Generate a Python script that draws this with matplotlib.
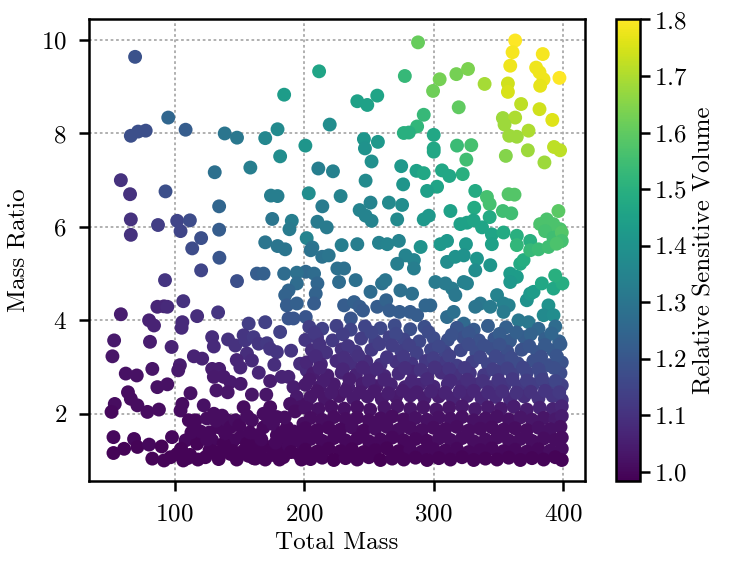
import matplotlib.pyplot as plt
import numpy as np

plt.rcParams['font.family'] = 'serif'
plt.rcParams['font.serif'] = ['cmr10']
plt.rcParams['mathtext.fontset'] = 'cm'
plt.rcParams['axes.formatter.use_mathtext'] = True

# sparse points, upper left (mass ratio > 5.5)
ul_mass = [69.5, 184.6, 95.1, 66.2, 71.8, 77.7, 108.5, 138.7, 148.2, 170.0,
           179.5, 181.5, 201.0, 58.5, 65.6, 66.2, 66.2, 93.0, 87.2, 102.0,
           104.6, 111.8, 120.5, 113.6, 131.0, 134.4, 134.4, 158.5, 174.4, 179.5,
           175.4, 190.5, 188.7, 170.0, 179.5, 185.4, 203.6, 202.0]
ul_ratio = [9.64, 8.83, 8.34, 7.95, 8.04, 8.06, 8.08, 8.00, 7.91, 7.90,
            8.09, 7.51, 7.74, 7.00, 6.70, 6.16, 5.83, 6.76, 6.04, 6.13,
            5.91, 6.14, 5.76, 5.54, 7.17, 6.44, 5.94, 7.27, 6.67, 6.66,
            6.17, 6.13, 5.95, 5.67, 5.59, 5.52, 6.72, 5.76]
ul_vol = [1.19, 1.43, 1.25, 1.18, 1.18, 1.18, 1.22, 1.30, 1.31, 1.36,
          1.37, 1.38, 1.41, 1.10, 1.10, 1.10, 1.10, 1.18, 1.13, 1.15,
          1.15, 1.17, 1.18, 1.17, 1.28, 1.25, 1.22, 1.33, 1.33, 1.33,
          1.30, 1.33, 1.32, 1.30, 1.30, 1.30, 1.38, 1.35]

# sparse points, upper right
ur_mass = [288.0, 211.6, 277.8, 304.7, 299.6, 317.6, 326.6, 339.4, 363.0, 361.0,
           359.2, 357.4, 357.4, 384.3, 379.2, 381.8, 384.9, 382.3, 397.2, 367.6,
           381.8, 391.7, 353.5, 363.0, 354.8, 358.4, 364.3, 373.3, 372.8, 355.8,
           385.6, 393.0, 397.7, 319.4, 292.4, 287.3, 277.0, 280.9, 300.1, 300.1,
           300.1, 318.1, 329.1, 325.3, 322.5, 312.2, 306.5, 302.7, 295.0, 332.2,
           341.2, 343.3, 357.9, 362.5, 353.5, 360.0, 331.4, 343.3, 313.0, 296.3,
           292.4, 396.4, 387.4, 382.3, 392.5, 397.7, 386.1, 286.8, 292.4, 275.0,
           276.5, 252.1, 247.5, 246.2, 247.0, 257.0, 248.8, 241.1, 256.5, 219.8,
           211.0, 222.3, 228.2, 214.1, 242.9, 247.5, 252.1, 251.3, 265.5, 275.7,
           271.9, 210.3, 217.5, 206.4, 229.0, 241.1, 257.8, 264.2, 273.2, 290.0,
           305.3, 310.4, 320.7, 325.8, 330.9, 337.4, 345.0, 354.0, 364.3, 374.6,
           325.0, 345.0, 392.5, 399.0, 399.0]
ur_ratio = [9.95, 9.33, 9.23, 9.16, 8.91, 9.27, 9.38, 9.06, 9.99, 9.74,
            9.45, 9.07, 8.89, 9.70, 9.41, 9.31, 9.16, 9.02, 9.19, 8.63,
            8.52, 8.29, 8.33, 8.34, 8.19, 7.95, 7.93, 8.06, 7.64, 7.52,
            7.38, 7.71, 7.64, 8.56, 8.40, 8.15, 8.01, 8.02, 7.97, 7.68,
            7.61, 7.74, 7.75, 7.44, 7.13, 7.09, 7.21, 6.86, 6.77, 6.77,
            6.64, 6.49, 6.70, 6.69, 6.34, 6.29, 6.41, 6.21, 6.34, 6.24,
            6.16, 6.34, 6.16, 6.06, 6.06, 5.95, 5.91, 7.20, 7.15, 7.30,
            6.91, 7.40, 6.99, 7.88, 7.68, 7.82, 8.61, 8.69, 8.81, 8.19,
            7.25, 7.19, 6.66, 6.44, 6.36, 6.24, 6.13, 6.52, 6.52, 6.47,
            6.16, 6.11, 5.99, 5.56, 5.61, 5.63, 5.66, 5.63, 5.70, 5.57,
            5.63, 5.70, 6.06, 6.09, 6.14, 5.99, 5.84, 5.88, 5.81, 5.70,
            5.63, 5.63, 5.77, 5.88, 5.70]
ur_vol = [1.61, 1.46, 1.53, 1.63, 1.62, 1.63, 1.64, 1.69, 1.80, 1.79,
          1.78, 1.74, 1.75, 1.79, 1.78, 1.78, 1.78, 1.77, 1.80, 1.72,
          1.74, 1.76, 1.68, 1.70, 1.68, 1.68, 1.68, 1.70, 1.68, 1.65,
          1.68, 1.72, 1.72, 1.60, 1.53, 1.52, 1.50, 1.50, 1.47, 1.47,
          1.47, 1.54, 1.56, 1.55, 1.50, 1.47, 1.47, 1.46, 1.44, 1.48,
          1.56, 1.56, 1.58, 1.58, 1.55, 1.55, 1.48, 1.48, 1.45, 1.42,
          1.42, 1.59, 1.57, 1.57, 1.57, 1.57, 1.56, 1.45, 1.47, 1.42,
          1.41, 1.39, 1.37, 1.41, 1.40, 1.42, 1.45, 1.45, 1.46, 1.38,
          1.33, 1.34, 1.35, 1.32, 1.35, 1.35, 1.35, 1.35, 1.37, 1.38,
          1.37, 1.32, 1.32, 1.30, 1.33, 1.33, 1.34, 1.35, 1.35, 1.40,
          1.42, 1.42, 1.45, 1.45, 1.46, 1.46, 1.46, 1.48, 1.50, 1.50,
          1.42, 1.45, 1.55, 1.58, 1.56]

# middle band, mass 200-400, ratio 4-5.6
mid_mass = [205.1, 214.0, 219.0, 278.3, 284.8, 284.8, 271.9, 201.3, 207.7, 210.3,
            209.0, 207.7, 201.3, 225.7, 230.9, 227.0, 239.8, 251.3, 260.2, 262.8,
            274.4, 283.4, 230.9, 238.6, 242.9, 236.1, 245.5, 256.5, 263.4, 266.0,
            273.7, 281.9, 287.3, 293.7, 297.5, 310.4, 316.8, 323.3, 333.5, 343.8,
            332.2, 301.4, 309.1, 314.3, 316.8, 323.3, 325.8, 336.1, 332.2, 349.0,
            354.0, 358.0, 343.8, 310.4, 315.5, 323.3, 354.0, 365.6, 373.3, 359.2,
            364.3, 359.2, 366.9, 369.5, 372.0, 374.6, 377.2, 383.6, 392.6, 399.5,
            393.9, 388.7, 385.0, 392.6, 364.3, 374.6, 381.0, 388.7, 395.0]
mid_ratio = [5.50, 5.36, 5.39, 5.39, 5.29, 5.11, 5.21, 5.04, 5.00, 4.79,
             4.57, 4.36, 4.07, 5.11, 5.11, 4.82, 4.86, 4.61, 4.79, 4.86,
             4.64, 4.57, 4.32, 4.39, 4.29, 4.04, 4.21, 4.29, 4.43, 4.21,
             4.18, 4.18, 4.11, 4.32, 4.32, 5.25, 5.36, 5.39, 5.32, 5.18,
             5.07, 4.82, 4.79, 4.68, 4.54, 4.82, 4.79, 4.36, 4.29, 4.54,
             4.36, 4.32, 4.29, 4.07, 4.18, 3.93, 4.18, 4.00, 3.96, 5.00,
             4.93, 4.82, 5.21, 5.29, 4.43, 4.57, 4.61, 4.79, 4.68, 4.79,
             4.96, 4.32, 4.11, 4.11, 5.61, 5.50, 5.52, 5.57, 5.64]
mid_vol = [1.29, 1.29, 1.30, 1.35, 1.35, 1.33, 1.33, 1.26, 1.27, 1.25,
           1.24, 1.22, 1.20, 1.28, 1.28, 1.27, 1.28, 1.27, 1.29, 1.30,
           1.28, 1.28, 1.22, 1.23, 1.22, 1.20, 1.21, 1.22, 1.24, 1.22,
           1.22, 1.22, 1.22, 1.25, 1.25, 1.38, 1.40, 1.40, 1.41, 1.41,
           1.38, 1.32, 1.32, 1.32, 1.31, 1.34, 1.34, 1.31, 1.30, 1.35,
           1.34, 1.34, 1.32, 1.27, 1.28, 1.26, 1.32, 1.31, 1.31, 1.43,
           1.43, 1.42, 1.48, 1.49, 1.40, 1.42, 1.43, 1.47, 1.47, 1.49,
           1.50, 1.40, 1.37, 1.38, 1.52, 1.53, 1.54, 1.55, 1.57]

# mass below 200, ratio 2-5.4
left_mass = [134.6, 120.5, 92.6, 106.7, 148.2, 163.6, 168.7, 184.6, 194.4, 194.4,
             188.0, 185.4, 186.7, 194.4, 188.0, 191.8, 58.5, 86.7, 91.8, 94.4,
             117.4, 133.6, 80.3, 84.1, 105.4, 106.0, 53.3, 52.0, 81.0, 97.7,
             129.0, 130.3, 141.3, 146.9, 157.2, 153.3, 154.6, 161.0, 155.9, 159.7,
             164.9, 171.3, 173.8, 179.0, 170.0, 181.5, 114.9, 121.3, 104.1, 102.8,
             82.8, 150.8, 196.9, 202.0, 62.3, 70.8, 86.7, 94.4, 64.0, 66.2,
             71.3, 53.8, 51.3, 79.0, 87.9, 106.0, 112.3, 122.5, 129.0, 134.4,
             130.3, 137.9, 143.0, 132.3, 141.0, 151.0, 159.7, 170.8, 173.8, 182.8,
             187.9, 191.8, 194.4, 197.0, 177.0, 190.0, 165.0, 148.0]
left_ratio = [5.34, 5.07, 4.86, 4.41, 4.84, 5.00, 5.00, 5.00, 5.02, 4.79,
              4.64, 4.54, 4.32, 4.36, 4.04, 4.04, 4.13, 4.29, 4.30, 4.29,
              4.09, 4.17, 4.00, 3.89, 3.84, 3.96, 3.57, 3.23, 3.54, 3.43,
              3.64, 3.44, 3.59, 3.46, 3.93, 3.68, 3.57, 3.64, 3.29, 3.14,
              3.50, 3.51, 3.39, 3.32, 3.96, 3.75, 3.23, 3.18, 3.04, 2.93,
              2.96, 2.99, 3.07, 2.93, 2.86, 2.82, 2.57, 2.63, 2.46, 2.32,
              2.18, 2.21, 2.04, 2.04, 2.09, 2.21, 2.44, 2.18, 2.96, 2.96,
              2.79, 2.79, 2.68, 2.50, 2.46, 2.64, 2.41, 2.41, 2.70, 2.79,
              2.79, 2.57, 2.36, 2.14, 3.05, 3.35, 2.88, 3.15]
left_vol = [1.20, 1.15, 1.11, 1.10, 1.18, 1.22, 1.23, 1.27, 1.28, 1.27,
            1.25, 1.24, 1.22, 1.23, 1.20, 1.20, 1.05, 1.07, 1.07, 1.08,
            1.09, 1.11, 1.06, 1.06, 1.08, 1.08, 1.04, 1.03, 1.05, 1.06,
            1.09, 1.08, 1.10, 1.10, 1.13, 1.11, 1.11, 1.12, 1.09, 1.08,
            1.11, 1.12, 1.11, 1.11, 1.14, 1.14, 1.06, 1.06, 1.05, 1.04,
            1.03, 1.07, 1.09, 1.08, 1.02, 1.02, 1.02, 1.02, 1.01, 1.01,
            1.01, 1.01, 1.00, 1.01, 1.01, 1.01, 1.02, 1.02, 1.05, 1.05,
            1.04, 1.04, 1.04, 1.03, 1.03, 1.04, 1.03, 1.03, 1.05, 1.06,
            1.06, 1.05, 1.04, 1.02, 1.09, 1.11, 1.07, 1.07]

# mass below 200, ratio 1-2.2
low_mass = [52.8, 52.8, 61.0, 68.7, 71.3, 80.3, 82.8, 91.8, 96.9, 102.0,
            108.5, 106.7, 104.6, 111.0, 116.2, 114.9, 117.4, 123.8, 129.0, 130.3,
            136.7, 134.1, 140.5, 143.1, 145.6, 137.9, 131.5, 143.1, 153.3, 153.3,
            150.8, 155.9, 162.3, 163.5, 159.7, 168.7, 168.7, 173.8, 179.0, 179.0,
            181.5, 173.8, 184.0, 186.7, 189.2, 193.1, 195.6, 199.5, 202.0, 112.0,
            118.0, 127.0, 134.0, 140.0, 148.0, 157.0, 166.0, 170.0, 176.0, 188.0,
            190.0, 198.0, 120.0, 127.0, 158.0, 176.0, 185.0, 192.0, 110.0, 199.0,
            165.0, 139.0, 147.0, 186.0, 193.0, 105.0, 113.0, 125.0, 132.0, 145.0,
            150.0, 160.0, 167.0, 172.0, 178.0, 183.0, 196.0, 125.0, 98.0, 90.0,
            161.0, 181.0, 156.0]
low_ratio = [1.50, 1.16, 1.25, 1.46, 1.29, 1.34, 1.04, 1.00, 1.07, 1.14,
             1.43, 1.00, 2.07, 1.86, 1.86, 1.50, 1.36, 1.07, 1.43, 2.00,
             1.96, 1.71, 1.86, 1.71, 1.43, 1.36, 1.18, 1.14, 1.21, 2.14,
             1.50, 1.36, 1.04, 1.43, 1.86, 2.00, 1.71, 2.14, 1.93, 1.54,
             1.25, 1.29, 1.07, 1.71, 2.21, 1.43, 1.14, 1.79, 2.21, 1.12,
             1.02, 1.22, 1.03, 1.25, 1.02, 1.10, 1.20, 1.02, 1.12, 1.32,
             1.18, 1.02, 1.62, 1.60, 1.60, 1.78, 1.92, 1.62, 1.05, 1.35,
             1.55, 1.58, 1.86, 1.48, 2.05, 1.25, 1.60, 1.45, 1.85, 1.20,
             1.75, 1.30, 1.45, 1.90, 1.38, 1.60, 1.55, 1.90, 1.50, 1.30,
             1.05, 1.02, 1.95]
low_vol = [1.00, 0.99, 0.99, 1.00, 0.99, 1.00, 0.99, 0.99, 0.99, 0.99,
           1.00, 0.99, 1.01, 1.00, 1.00, 1.00, 0.99, 0.99, 1.00, 1.01,
           1.01, 1.00, 1.01, 1.00, 1.00, 0.99, 0.99, 0.99, 0.99, 1.01,
           1.00, 0.99, 0.99, 1.00, 1.01, 1.01, 1.00, 1.01, 1.01, 1.00,
           0.99, 0.99, 0.99, 1.00, 1.02, 1.00, 0.99, 1.01, 1.02, 0.99,
           0.99, 0.99, 0.99, 0.99, 0.99, 0.99, 0.99, 0.99, 0.99, 1.00,
           0.99, 0.99, 1.00, 1.00, 1.00, 1.01, 1.01, 1.00, 0.99, 1.00,
           1.00, 1.00, 1.01, 1.00, 1.01, 0.99, 1.00, 1.00, 1.01, 0.99,
           1.00, 0.99, 1.00, 1.01, 1.00, 1.00, 1.00, 1.01, 1.00, 0.99,
           0.99, 0.99, 1.01]

# mass 200-400, ratio 2.2-4
band_mass = [204, 214, 225, 236, 247, 259, 270, 282, 293, 318, 331, 342, 356, 381, 394,
             201, 210, 222, 244, 255, 266, 277, 289, 300, 311, 323, 335, 347, 359, 370, 386, 397,
             206, 217, 229, 240, 252, 275, 287, 298, 309, 321, 333, 345, 357, 368, 380, 392,
             202, 213, 225, 236, 248, 259, 271, 283, 294, 306, 318, 330, 342, 354, 365, 377, 389, 399,
             207, 218, 229, 240, 251, 262, 273, 284, 295, 306, 317, 328, 339, 350, 361, 372, 383, 398,
             201, 212, 223, 234, 245, 256, 267, 278, 289, 300, 311, 322, 333, 344, 355, 366, 377, 388, 399,
             205, 216, 227, 238, 249, 260, 271, 282, 293, 304, 315, 326, 337, 348, 359, 370, 381, 392, 399]
band_ratio = [3.86, 3.82, 3.88, 3.80, 3.87, 3.83, 3.89, 3.81, 3.86, 3.84, 3.80, 3.88, 3.85, 3.82, 3.87,
              3.58, 3.63, 3.57, 3.61, 3.56, 3.64, 3.59, 3.55, 3.62, 3.58, 3.63, 3.57, 3.61, 3.56, 3.64, 3.60, 3.55,
              3.36, 3.31, 3.38, 3.33, 3.37, 3.34, 3.30, 3.37, 3.32, 3.36, 3.31, 3.38, 3.33, 3.37, 3.32, 3.36,
              3.10, 3.06, 3.13, 3.08, 3.12, 3.05, 3.11, 3.07, 3.13, 3.08, 3.03, 3.11, 3.06, 3.12, 3.08, 3.13, 3.04, 3.10,
              2.86, 2.82, 2.88, 2.83, 2.87, 2.81, 2.86, 2.90, 2.83, 2.88, 2.82, 2.87, 2.83, 2.89, 2.84, 2.88, 2.82, 2.87,
              2.62, 2.57, 2.63, 2.58, 2.64, 2.59, 2.63, 2.57, 2.62, 2.58, 2.64, 2.59, 2.63, 2.57, 2.62, 2.58, 2.63, 2.59, 2.61,
              2.36, 2.32, 2.38, 2.33, 2.37, 2.31, 2.36, 2.39, 2.33, 2.37, 2.32, 2.38, 2.33, 2.36, 2.31, 2.37, 2.33, 2.38, 2.30]
band_vol = [1.13, 1.14, 1.14, 1.15, 1.15, 1.16, 1.17, 1.18, 1.18, 1.20, 1.21, 1.22, 1.23, 1.25, 1.27,
            1.11, 1.11, 1.12, 1.13, 1.14, 1.14, 1.15, 1.16, 1.17, 1.18, 1.18, 1.19, 1.20, 1.21, 1.22, 1.23, 1.24,
            1.09, 1.10, 1.10, 1.11, 1.12, 1.13, 1.14, 1.15, 1.15, 1.16, 1.17, 1.18, 1.18, 1.19, 1.20, 1.21,
            1.07, 1.07, 1.08, 1.09, 1.09, 1.10, 1.10, 1.11, 1.12, 1.12, 1.13, 1.14, 1.15, 1.16, 1.17, 1.18, 1.18, 1.19,
            1.05, 1.05, 1.06, 1.06, 1.07, 1.07, 1.08, 1.08, 1.09, 1.09, 1.10, 1.11, 1.12, 1.13, 1.14, 1.15, 1.16, 1.17,
            1.04, 1.04, 1.04, 1.05, 1.05, 1.05, 1.06, 1.06, 1.07, 1.07, 1.08, 1.08, 1.09, 1.10, 1.11, 1.12, 1.13, 1.13, 1.14,
            1.03, 1.03, 1.03, 1.04, 1.04, 1.04, 1.04, 1.05, 1.05, 1.05, 1.06, 1.06, 1.07, 1.08, 1.08, 1.09, 1.10, 1.11, 1.11]

# extra points between the band rows
fill_mass = [208, 230, 252, 271, 296, 314, 327, 351, 364, 375, 391,
             212, 234, 258, 268, 281, 304, 327, 339, 351, 374, 386, 398,
             209, 231, 242, 264, 277, 300, 312, 336, 348, 360, 383, 395,
             212, 230, 245, 256, 278, 290, 301, 312, 324, 346, 357, 369, 381, 393,
             204, 215, 235, 250, 262, 283, 295, 313, 326, 338, 350, 361, 372, 384, 394,
             210, 221, 232, 243, 254, 265, 276, 287, 298, 309, 320, 331, 342, 353, 364, 375, 386, 397]
fill_ratio = [3.73, 3.70, 3.74, 3.71, 3.75, 3.69, 3.73, 3.71, 3.74, 3.70, 3.72,
              3.48, 3.45, 3.49, 3.46, 3.47, 3.44, 3.49, 3.46, 3.48, 3.45, 3.47, 3.49,
              3.23, 3.20, 3.24, 3.21, 3.22, 3.19, 3.24, 3.21, 3.23, 3.20, 3.22, 3.24,
              2.98, 2.95, 2.99, 2.96, 2.98, 2.94, 2.99, 2.96, 2.98, 2.95, 2.97, 2.99, 2.96, 2.98,
              2.73, 2.70, 2.74, 2.71, 2.73, 2.69, 2.74, 2.71, 2.73, 2.70, 2.72, 2.74, 2.71, 2.73, 2.70,
              2.48, 2.45, 2.49, 2.46, 2.48, 2.44, 2.49, 2.46, 2.48, 2.45, 2.47, 2.49, 2.46, 2.48, 2.45, 2.47, 2.49, 2.46]
fill_vol = [1.12, 1.13, 1.15, 1.16, 1.17, 1.19, 1.20, 1.22, 1.23, 1.24, 1.25,
            1.10, 1.11, 1.13, 1.13, 1.14, 1.16, 1.17, 1.18, 1.19, 1.20, 1.21, 1.22,
            1.08, 1.09, 1.10, 1.11, 1.12, 1.13, 1.14, 1.15, 1.16, 1.17, 1.18, 1.20,
            1.06, 1.07, 1.07, 1.08, 1.09, 1.10, 1.10, 1.11, 1.12, 1.13, 1.14, 1.15, 1.16, 1.18,
            1.04, 1.05, 1.05, 1.06, 1.06, 1.07, 1.08, 1.08, 1.09, 1.10, 1.11, 1.12, 1.13, 1.14, 1.15,
            1.03, 1.04, 1.04, 1.04, 1.04, 1.05, 1.05, 1.05, 1.06, 1.06, 1.07, 1.07, 1.08, 1.09, 1.10, 1.10, 1.11, 1.12]

# dense region, mass 200-400, ratio 1-2.2
dense_mass = [201, 211, 221, 231, 241, 251, 262, 272, 282, 292, 302, 312, 322, 332, 342, 352, 362, 372, 382, 392, 399,
              205, 214, 223, 232, 241, 250, 259, 268, 277, 286, 295, 304, 313, 322, 331, 340, 349, 358, 367, 376, 385, 394, 399,
              201, 210, 219, 228, 237, 246, 255, 264, 273, 282, 291, 300, 309, 318, 327, 336, 345, 354, 363, 372, 381, 390, 398,
              205, 214, 223, 232, 241, 250, 259, 268, 277, 286, 295, 304, 313, 322, 331, 340, 349, 358, 367, 376, 385, 394, 399,
              201, 210, 219, 228, 237, 246, 255, 264, 273, 282, 291, 300, 309, 318, 327, 336, 345, 354, 363, 372, 381, 390, 399,
              205, 214, 223, 232, 241, 250, 259, 268, 277, 286, 295, 304, 313, 322, 331, 340, 349, 358, 367, 376, 385, 394, 399]
dense_ratio = [2.13, 2.10, 2.15, 2.11, 2.14, 2.09, 2.13, 2.16, 2.11, 2.14, 2.09, 2.13, 2.16, 2.10, 2.14, 2.11, 2.15, 2.09, 2.13, 2.10, 2.16,
               1.91, 1.87, 1.93, 1.89, 1.92, 1.86, 1.90, 1.94, 1.88, 1.91, 1.87, 1.92, 1.89, 1.93, 1.86, 1.90, 1.94, 1.88, 1.92, 1.87, 1.91, 1.88, 1.95,
               1.69, 1.65, 1.70, 1.66, 1.71, 1.64, 1.68, 1.72, 1.66, 1.69, 1.65, 1.70, 1.67, 1.72, 1.64, 1.68, 1.71, 1.66, 1.69, 1.65, 1.70, 1.67, 1.72,
               1.46, 1.42, 1.48, 1.43, 1.47, 1.41, 1.45, 1.49, 1.43, 1.46, 1.42, 1.47, 1.44, 1.48, 1.41, 1.45, 1.49, 1.43, 1.46, 1.42, 1.47, 1.44, 1.49,
               1.23, 1.19, 1.25, 1.20, 1.24, 1.18, 1.22, 1.26, 1.20, 1.23, 1.19, 1.24, 1.21, 1.25, 1.18, 1.22, 1.26, 1.20, 1.23, 1.19, 1.24, 1.21, 1.25,
               1.03, 1.06, 1.01, 1.05, 1.02, 1.07, 1.01, 1.04, 1.02, 1.06, 1.01, 1.05, 1.02, 1.07, 1.01, 1.04, 1.02, 1.06, 1.01, 1.05, 1.02, 1.07, 1.01]
dense_vol = [1.02, 1.02, 1.02, 1.02, 1.02, 1.02, 1.03, 1.03, 1.03, 1.03, 1.03, 1.03, 1.04, 1.04, 1.04, 1.04, 1.05, 1.05, 1.06, 1.06, 1.07,
             1.01, 1.01, 1.01, 1.01, 1.01, 1.01, 1.01, 1.01, 1.01, 1.02, 1.02, 1.02, 1.02, 1.02, 1.02, 1.02, 1.02, 1.02, 1.03, 1.03, 1.03, 1.04, 1.05,
             1.00, 1.00, 1.00, 1.00, 1.01, 1.00, 1.01, 1.01, 1.01, 1.01, 1.01, 1.01, 1.01, 1.01, 1.01, 1.01, 1.01, 1.01, 1.01, 1.01, 1.02, 1.02, 1.02,
             1.00, 1.00, 1.00, 1.00, 1.00, 1.00, 1.00, 1.00, 1.00, 1.00, 1.00, 1.01, 1.01, 1.01, 1.01, 1.01, 1.01, 1.01, 1.01, 1.01, 1.01, 1.01, 1.01,
             0.99, 0.99, 0.99, 0.99, 0.99, 0.99, 0.99, 0.99, 0.99, 1.00, 1.00, 1.00, 1.00, 1.00, 1.00, 1.00, 1.00, 1.00, 1.00, 1.00, 1.00, 1.01, 1.01,
             0.99, 0.99, 0.983, 0.99, 0.99, 0.99, 0.985, 0.99, 0.99, 0.99, 0.99, 0.99, 0.99, 0.99, 0.99, 0.99, 0.99, 0.99, 0.99, 0.99, 0.99, 0.99, 0.99]

mass = np.concatenate([ul_mass, ur_mass, mid_mass, left_mass, low_mass, band_mass, fill_mass, dense_mass])
ratio = np.concatenate([ul_ratio, ur_ratio, mid_ratio, left_ratio, low_ratio, band_ratio, fill_ratio, dense_ratio])
vol = np.concatenate([ul_vol, ur_vol, mid_vol, left_vol, low_vol, band_vol, fill_vol, dense_vol])
assert len(mass) == len(ratio) == len(vol)

fig = plt.figure(figsize=(7.36, 5.70), dpi=100)
ax = fig.add_axes([0.1209, 0.1553, 0.6739, 0.8105])
cax = fig.add_axes([0.837, 0.1553, 0.0326, 0.8105])

sc = ax.scatter(mass, ratio, c=vol, cmap='viridis', s=100, linewidths=0, zorder=3)
ax.set_axisbelow(True)
ax.grid(True, ls=(0, (1.5, 1.5)), lw=1.3, color='#aaaaaa')
ax.set_xticks([100, 200, 300, 400])
ax.set_yticks([2, 4, 6, 8, 10])
ax.tick_params(labelsize=18, length=7, width=1.8, pad=9)
for sp in ax.spines.values():
    sp.set_linewidth(1.8)
ax.set_xlabel('Total Mass', fontsize=18, labelpad=4)
ax.set_ylabel('Mass Ratio', fontsize=18, labelpad=8)

cb = fig.colorbar(sc, cax=cax)
cb.set_label('Relative Sensitive Volume', fontsize=18)
cb.outline.set_linewidth(1.8)
cax.tick_params(labelsize=18, length=7, width=1.8, pad=3)

fig.savefig('out.png')
